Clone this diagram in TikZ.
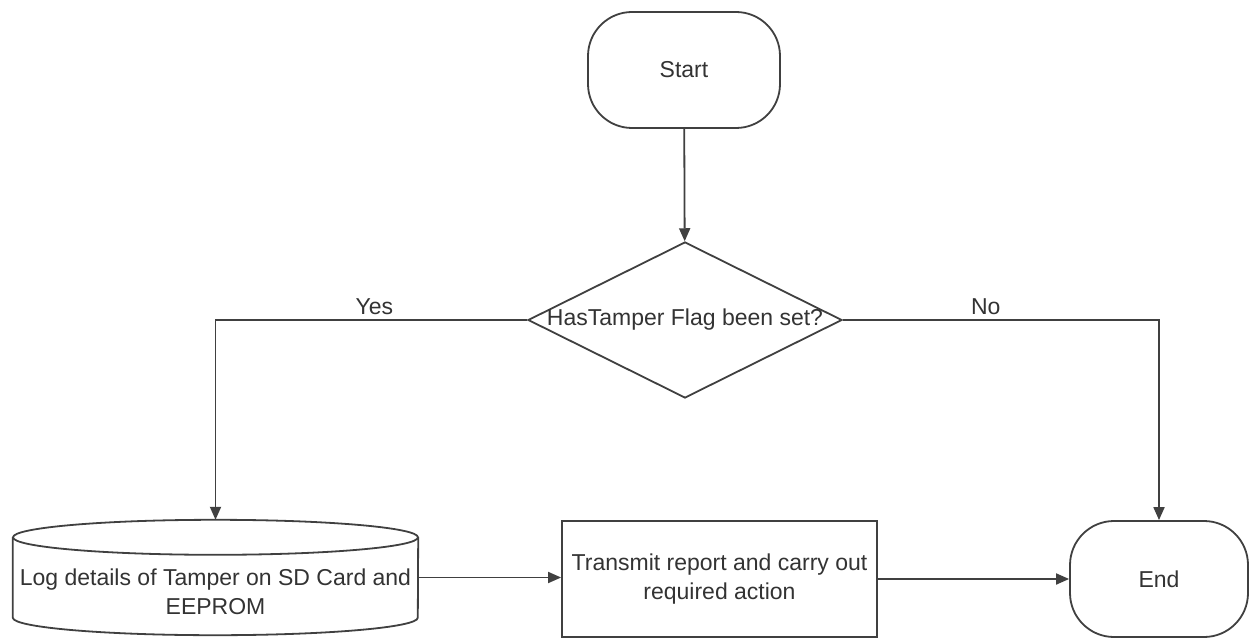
\documentclass[tikz,border=0pt]{standalone}
\usepackage{fontspec}
\setmainfont{Liberation Sans}
\usetikzlibrary{arrows.meta,shapes.geometric}
\begin{document}
\begin{tikzpicture}[x=1pt,y=-1pt,
  every node/.style={font=\fontsize{23}{29}\selectfont, text=black!80},
  line/.style={draw=black!75, line width=1.8pt},
  flow/.style={line, -{Triangle[length=13pt,width=11pt]}},
  terminal/.style={line, rectangle, rounded corners=44pt, minimum height=116pt, inner sep=0pt},
  decision/.style={line, diamond, minimum width=314pt, minimum height=156pt, inner sep=0pt},
  process/.style={line, rectangle, minimum width=315pt, minimum height=116pt, inner sep=0pt, align=center},
  frame/.style={rectangle, minimum width=405pt, minimum height=115pt, inner sep=0pt},
  tag/.style={inner sep=0pt}
]
\useasboundingbox[fill=white] (0,0) rectangle (1250,639);

% shapes
\node[terminal, minimum width=192pt] (start) at (684,70) {Start};
\node[decision] (dec) at (685,320) {};
\node[tag] (dectext) at (dec) {HasTamper Flag been set?};
\node[frame] (log) at (215.5,577.5) {};
\node[tag, align=center] (logtext) at (215.5,592) {Log details of Tamper on SD Card and\\EEPROM};
\node[process] (act) at (719.5,579) {Transmit report and carry out\\required action};
\node[terminal, minimum width=178pt] (end) at (1159,579) {End};

% storage cylinder around the log node
\draw[line] ([yshift=-17.5pt]log.north) ellipse [x radius=202.5, y radius=17.5];
\draw[line] ([yshift=-17.5pt]log.north west) -- ([yshift=17.5pt]log.south west)
  arc [start angle=180, end angle=0, x radius=202.5, y radius=17.5]
  -- ([yshift=-17.5pt]log.north east);

% connectors
\draw[flow] (start) -- (dec);
\draw[flow] (dec.west) -| node[pos=0.245, above=4pt, tag] (yes) {Yes} (log.north);
\draw[flow] (dec.east) -| node[pos=0.226, above=4pt, tag] (no) {No} (end.north);
\draw[flow] (log.east) -- (log.east -| act.west);
\draw[flow] (act.east) -- (act.east -| end.west);
\end{tikzpicture}
\end{document}
